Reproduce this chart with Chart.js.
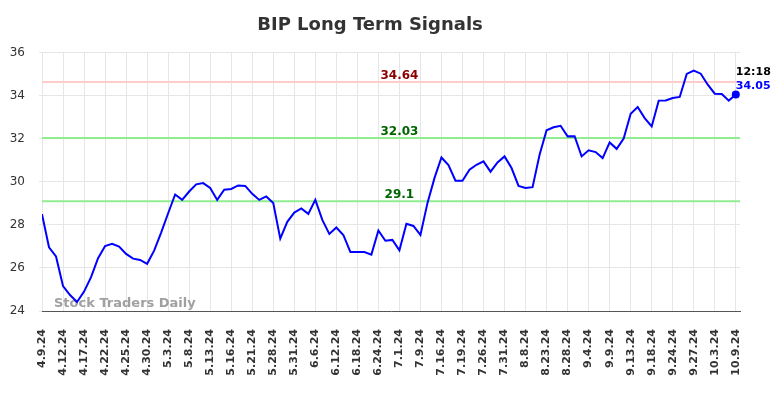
<!DOCTYPE html>
<html>
<head>
<meta charset="utf-8">
<script src="https://cdn.jsdelivr.net/npm/chart.js@4/dist/chart.umd.min.js"></script>
<style>
  html, body { margin: 0; padding: 0; background: #fff; }
</style>
</head>
<body>
<canvas id="chart" width="784" height="398"></canvas>
<script>
// tick labels, one every 3 sessions
const tickLabels = [
  "4.9.24", "4.12.24", "4.17.24", "4.22.24", "4.25.24", "4.30.24", "5.3.24", "5.8.24",
  "5.13.24", "5.16.24", "5.21.24", "5.28.24", "5.31.24", "6.6.24", "6.12.24", "6.18.24",
  "6.24.24", "7.1.24", "7.9.24", "7.16.24", "7.19.24", "7.26.24", "7.31.24", "8.8.24",
  "8.23.24", "8.28.24", "9.4.24", "9.9.24", "9.13.24", "9.18.24", "9.24.24", "9.27.24",
  "10.3.24", "10.9.24"
];

// closing prices
const closes = [
  28.50, 26.96, 26.53, 25.16, 24.74, 24.42, 24.90, 25.57, 26.45, 27.02,
  27.12, 26.99, 26.65, 26.43, 26.37, 26.19, 26.80, 27.64, 28.54, 29.41,
  29.16, 29.55, 29.88, 29.94, 29.71, 29.16, 29.63, 29.67, 29.83, 29.81,
  29.44, 29.16, 29.32, 29.01, 27.36, 28.14, 28.57, 28.76, 28.51, 29.16,
  28.23, 27.58, 27.88, 27.53, 26.74, 26.74, 26.74, 26.62, 27.74, 27.26,
  27.30, 26.82, 28.05, 27.95, 27.53, 29.01, 30.17, 31.13, 30.78, 30.05,
  30.05, 30.56, 30.79, 30.95, 30.47, 30.90, 31.18, 30.64, 29.81, 29.71,
  29.75, 31.26, 32.39, 32.53, 32.60, 32.11, 32.12, 31.18, 31.46, 31.38,
  31.10, 31.83, 31.53, 32.01, 33.16, 33.47, 32.96, 32.57, 33.77, 33.78,
  33.89, 33.94, 35.01, 35.16, 35.02, 34.51, 34.09, 34.08, 33.77, 34.05
];

const signalLevels = [34.64, 32.03, 29.1];
const lastTime = "12:18";

const levelLineColors = ["#ffcccc", "#90ee90", "#90ee90"];
const levelTextColors = ["#8b0000", "#006400", "#006400"];
const X_MAX = 99.6;
const LABEL_AT = 51; // index where the level labels sit

const overlay = {
  id: "overlay",
  beforeDatasetsDraw(chart) {
    const { ctx, chartArea } = chart;
    ctx.save();
    ctx.font = "bold 13px 'DejaVu Sans'";
    ctx.fillStyle = "#a0a0a0";
    ctx.textAlign = "left";
    ctx.textBaseline = "alphabetic";
    ctx.fillText("Stock Traders Daily", chartArea.left + 12, chartArea.bottom - 4);
    ctx.restore();
  },
  afterDatasetsDraw(chart) {
    const { ctx } = chart;
    const xs = chart.scales.x;
    const ys = chart.scales.y;
    ctx.save();
    ctx.font = "bold 12px 'DejaVu Sans'";
    ctx.textAlign = "center";
    ctx.textBaseline = "alphabetic";
    signalLevels.forEach((lvl, i) => {
      ctx.fillStyle = levelTextColors[i];
      ctx.fillText(String(lvl), xs.getPixelForValue(LABEL_AT), ys.getPixelForValue(lvl) - 3);
    });

    // last price tag
    const last = closes.length - 1;
    const px = xs.getPixelForValue(last);
    const py = ys.getPixelForValue(closes[last]);
    ctx.font = "bold 11px 'DejaVu Sans'";
    ctx.textAlign = "left";
    ctx.fillStyle = "#000";
    ctx.fillText(lastTime, px, py - 20);
    ctx.fillStyle = "#0000ff";
    ctx.fillText(closes[last].toFixed(2), px, py - 6);
    ctx.restore();
  }
};

const levelSets = signalLevels.map((lvl, i) => ({
  data: [{ x: 0, y: lvl }, { x: X_MAX, y: lvl }],
  borderColor: levelLineColors[i],
  borderWidth: 2,
  pointRadius: 0,
  order: 1
}));

new Chart(document.getElementById("chart"), {
  type: "line",
  data: {
    datasets: [
      {
        data: closes.map((v, i) => ({ x: i, y: v })),
        borderColor: "#0000ff",
        backgroundColor: "#0000ff",
        borderWidth: 2,
        tension: 0,
        pointRadius: (c) => (c.dataIndex === closes.length - 1 ? 4 : 0),
        pointBorderWidth: 0,
        order: 0
      },
      ...levelSets
    ]
  },
  options: {
    responsive: false,
    animation: false,
    layout: { padding: { left: 0, right: 44, top: 0, bottom: 0 } },
    plugins: {
      legend: { display: false },
      tooltip: { enabled: false },
      title: {
        display: true,
        text: "BIP Long Term Signals",
        color: "#333",
        font: { family: "DejaVu Sans", size: 18, weight: "bold" },
        padding: { top: 15, bottom: 16 }
      }
    },
    scales: {
      x: {
        type: "linear",
        min: 0,
        max: X_MAX,
        afterBuildTicks: (s) => {
          s.ticks = tickLabels.map((_, i) => ({ value: i * 3 }));
        },
        afterFit: (s) => { s.height = 87; },
        ticks: {
          autoSkip: false,
          minRotation: 90,
          maxRotation: 90,
          padding: 18,
          color: "#333",
          font: { family: "DejaVu Sans", size: 11, weight: "bold" },
          callback: (v) => tickLabels[Math.round(v / 3)]
        },
        grid: { color: "#e6e6e6", drawTicks: false },
        border: { color: "#555", width: 1 }
      },
      y: {
        min: 24,
        max: 36,
        afterFit: (s) => { s.width = 42; },
        ticks: {
          stepSize: 2,
          padding: 14,
          color: "#333",
          font: { family: "DejaVu Sans", size: 12 }
        },
        grid: { color: "#e6e6e6", tickLength: 3 },
        border: { display: false }
      }
    }
  },
  plugins: [overlay]
});
</script>
</body>
</html>
